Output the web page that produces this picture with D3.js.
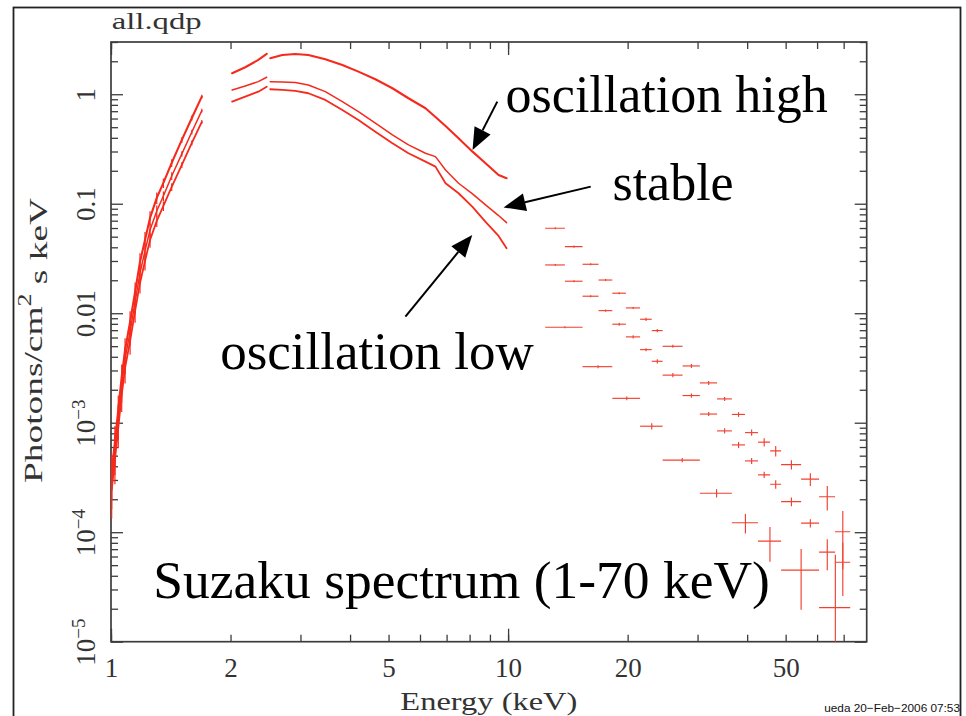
<!DOCTYPE html>
<html><head><meta charset="utf-8">
<script src="https://cdn.jsdelivr.net/npm/d3@7"></script>
<style>html,body{margin:0;padding:0;background:#fff;} svg{display:block;}</style>
</head><body>
<svg id="chart" width="966" height="716"></svg>
<script>
// ---------------- DATA ----------------
// XIS soft band (1-1.7 keV), three states
const softEnergy = [1.004,1.023,1.043,1.064,1.085,1.117,1.150,1.183,1.218,1.254,1.304,1.355,1.422,1.508,1.598,1.693];
const softHigh   = [0.000355,0.000668,0.00131,0.00262,0.00462,0.00833,0.01565,0.0294,0.0467,0.0742,0.1130,0.1549,0.2358,0.3825,0.6075,0.951];
const softStable = [0.000294,0.000553,0.001083,0.00217,0.00382,0.00675,0.01268,0.0233,0.0371,0.0576,0.0859,0.1178,0.1794,0.2850,0.4525,0.7083];
const softLow    = [0.000243,0.000457,0.000897,0.00179,0.00317,0.00558,0.0105,0.0189,0.0300,0.0467,0.0697,0.0955,0.1423,0.2261,0.3591,0.5585];
const softRelErr = [0.45,0.40,0.35,0.30,0.28,0.25,0.22,0.20,0.18,0.15,0.12,0.10,0.08,0.06,0.05,0.04];

// XIS hard band, part A (2-2.47 keV) and part B (2.5-10 keV)
const hardEnergyA = [2.019,2.178,2.349,2.467];
const hardHighA   = [1.555,1.765,2.057,2.333];
const hardStableA = [1.095,1.191,1.303,1.430];
const hardLowA    = [0.8557,0.9508,1.056,1.173];

const hardEnergyB = [2.518,2.700,2.911,3.140,3.465,3.825,4.198,4.632,5.113,5.612,6.194,6.563,6.958,7.503,8.136,8.775,9.463,9.913];
const hardHighB   = [2.132,2.285,2.333,2.285,2.087,1.851,1.608,1.371,1.134,0.9194,0.7449,0.6205,0.5135,0.3964,0.2990,0.2343,0.1832,0.1709];
const hardStableB = [1.303,1.295,1.282,1.216,1.056,0.8557,0.6935,0.5435,0.4249,0.3443,0.2891,0.2692,0.2035,0.1539,0.1229,0.0975,0.0780,0.0672];
const hardLowB    = [1.111,1.095,1.072,1.021,0.887,0.719,0.5824,0.4555,0.3568,0.2891,0.2424,0.2182,0.1539,0.1247,0.0935,0.0682,0.0508,0.0392];

// HXD (12-73 keV) binned points
const hxdEdges = [12.4,13.9,15.4,16.9,18.3,19.8,21.5,23.0,24.5,27.5,30.4,33.6,36.6,39.5,42.6,45.7,48.7,54.7,60.7,66.6,72.7];
const hxdHigh    = [0.0597,0.0406,0.0280,0.0201,0.01523,0.01118,0.00881,0.00694,0.00499,0.00330,0.00231,0.00165,0.00119,0.000812,0.000664,0.000553,0.000414,0.000305,0.000211,0.000101];
const hxdHighErr = [0.0013,0.0009,0.0006,0.0004,0.0003,0.00024,0.0003,0.00022,0.00016,0.00014,0.0001,0.00007,0.00006,0.000053,0.000058,0.000061,0.000041,0.000041,0.000053,0.000055];
const hxdStable    = [0.0276,0.0196,0.0143,0.01056,0.00794,0.00608,0.00465,0.00364,0.00272,0.00177,0.00120,0.000842,0.000627,0.000448,0.000334,0.000274,0.000190,0.000121,0.0000657,0.0000532];
const hxdStableErr = [0.0006,0.0004,0.0003,0.00023,0.00026,0.0002,0.00015,0.00016,0.00012,0.000076,0.00005,0.000046,0.000041,0.000029,0.000022,0.000024,0.000017,0.0000106,0.0000207,0.000027];
const hxdLowEdges = [12.4,15.4,18.3,21.5,24.5,30.4,36.6,42.6,48.7,60.7,72.7];
const hxdLow    = [0.00745,0.00325,0.00167,0.000929,0.000455,0.000227,0.000122,0.0000828,0.0000450,0.0000205];
const hxdLowErr = [0.00016,0.0001,0.00007,0.00006,0.00002,0.00002,0.0000245,0.000029,0.0000254,0.0000416];

// Axis ticks and labels
const xMajorTicks = [1,10];
const xMinorTicks = [2,3,4,5,6,7,8,9,20,30,40,50,60,70];
const xLabelValues = [1,2,5,10,20,50];
const yMajorTicks = [1e-5,1e-4,1e-3,0.01,0.1,1];
const yMinorTicks = [2e-5,3e-5,4e-5,5e-5,6e-5,7e-5,8e-5,9e-5,
                     2e-4,3e-4,4e-4,5e-4,6e-4,7e-4,8e-4,9e-4,
                     0.002,0.003,0.004,0.005,0.006,0.007,0.008,0.009,
                     0.02,0.03,0.04,0.05,0.06,0.07,0.08,0.09,
                     0.2,0.3,0.4,0.5,0.6,0.7,0.8,0.9,2,3];
const yLabelBase = ["10","10","10","0.01","0.1","1"];
const yLabelExp  = ["\u22125","\u22124","\u22123","","",""];

// Texts
const titleText = "all.qdp";
const xTitle = "Energy (keV)";
const yTitleParts = ["Photons/cm","2"," s keV"];
const stampText = "ueda 20\u2212Feb\u22122006 07:53";
const annotations = [
  {text:"oscillation high", e:9.856, f:0.6935, size:52},
  {text:"stable", e:18.31, f:0.1083, size:52},
  {text:"oscillation low", e:1.883, f:0.0031, size:53},
  {text:"Suzaku spectrum (1-70 keV)", e:1.278, f:2.496e-5, size:53.5}
];
const arrows = [
  {from:[9.393,0.856], to:[8.136,0.310]},
  {from:[16.15,0.1433], to:[9.743,0.0925]},
  {from:[5.513,0.00931], to:[8.122,0.0519]}
];

// ---------------- LAYOUT ----------------
const plot = {left:111, right:866.7, top:42, bottom:641.7};
const red = "#f52a1c";
const axisColor = "#3c3c3c";
const serif = "'Liberation Serif','Times New Roman',serif";

const svg = d3.select("#chart");
const x = d3.scaleLog().domain([1,80]).range([plot.left, plot.right]);
const y = d3.scaleLog().domain([1e-5,3]).range([plot.bottom, plot.top]);

// outer frame
svg.append("rect").attr("x",13.5).attr("y",7.5).attr("width",947).attr("height",740)
  .attr("fill","none").attr("stroke","#222").attr("stroke-width",1.8);

// clip
svg.append("clipPath").attr("id","clip").append("rect")
  .attr("x",plot.left).attr("y",plot.top).attr("width",plot.right-plot.left).attr("height",plot.bottom-plot.top);

// ---------------- AXES ----------------
function styleAxis(g){
  g.select(".domain").remove();
  g.selectAll(".tick line").attr("stroke",axisColor).attr("stroke-width",1.3);
}
const allX = xMajorTicks.concat(xMinorTicks);
// bottom
const gxb = svg.append("g").attr("transform",`translate(0,${plot.bottom})`)
  .call(d3.axisBottom(x).tickValues(allX).tickSizeInner(-7).tickSizeOuter(0).tickPadding(16)
    .tickFormat(d => xLabelValues.includes(d) ? String(d) : ""));
styleAxis(gxb);
gxb.attr("font-family",serif).attr("font-size",27);
gxb.selectAll(".tick text").attr("fill","#333");
const gxb2 = svg.append("g").attr("transform",`translate(0,${plot.bottom})`)
  .call(d3.axisBottom(x).tickValues(xMajorTicks).tickSizeInner(-13).tickSizeOuter(0).tickFormat(""));
styleAxis(gxb2);
// top
const gxt = svg.append("g").attr("transform",`translate(0,${plot.top})`)
  .call(d3.axisTop(x).tickValues(allX).tickSizeInner(-7).tickSizeOuter(0).tickFormat(""));
styleAxis(gxt);
const gxt2 = svg.append("g").attr("transform",`translate(0,${plot.top})`)
  .call(d3.axisTop(x).tickValues(xMajorTicks).tickSizeInner(-13).tickSizeOuter(0).tickFormat(""));
styleAxis(gxt2);
// left
const gyl = svg.append("g").attr("transform",`translate(${plot.left},0)`)
  .call(d3.axisLeft(y).tickValues(yMinorTicks).tickSizeInner(-7).tickSizeOuter(0).tickFormat(""));
styleAxis(gyl);
const gyl2 = svg.append("g").attr("transform",`translate(${plot.left},0)`)
  .call(d3.axisLeft(y).tickValues(yMajorTicks).tickSizeInner(-12).tickSizeOuter(0).tickFormat(""));
styleAxis(gyl2);
gyl2.selectAll(".tick").each(function(d){
  const i = yMajorTicks.indexOf(d);
  const t = d3.select(this).append("text")
    .attr("transform","translate(-16,0) rotate(-90)")
    .attr("text-anchor","middle").attr("fill","#333")
    .attr("font-family",serif).attr("font-size",27);
  t.append("tspan").text(yLabelBase[i]);
  if (yLabelExp[i]) t.append("tspan").attr("dy","-0.55em").attr("font-size",19).text(yLabelExp[i]);
});
// right
const gyr = svg.append("g").attr("transform",`translate(${plot.right},0)`)
  .call(d3.axisRight(y).tickValues(yMinorTicks).tickSizeInner(-7).tickSizeOuter(0).tickFormat(""));
styleAxis(gyr);
const gyr2 = svg.append("g").attr("transform",`translate(${plot.right},0)`)
  .call(d3.axisRight(y).tickValues(yMajorTicks).tickSizeInner(-12).tickSizeOuter(0).tickFormat(""));
styleAxis(gyr2);

// plot frame
svg.append("rect").attr("x",plot.left).attr("y",plot.top)
  .attr("width",plot.right-plot.left).attr("height",plot.bottom-plot.top)
  .attr("fill","none").attr("stroke",axisColor).attr("stroke-width",1.7);

// ---------------- stretched (Hershey-like) titles ----------------
function stretchedText(px, py, rot, anchor, target, build){
  const g = svg.append("g");
  const t = g.append("text").attr("text-anchor",anchor).attr("font-family",serif).attr("fill","#333");
  build(t);
  const L = t.node().getComputedTextLength();
  const s = target / L;
  g.attr("transform",`translate(${px},${py}) rotate(${rot}) scale(${s},1)`);
  return g;
}
stretchedText(111.7, 29, 0, "start", 90, t => t.attr("font-size",24).text(titleText));
stretchedText((plot.left+plot.right)/2, 710, 0, "middle", 177, t => t.attr("font-size",26).text(xTitle));
stretchedText(42, 340.5, -90, "middle", 285, t => {
  t.attr("font-size",26);
  t.append("tspan").text(yTitleParts[0]);
  t.append("tspan").attr("dy","-0.6em").attr("font-size",18).text(yTitleParts[1]);
  t.append("tspan").attr("dy","0.6em").text(yTitleParts[2]);
});

// ---------------- DATA MARKS ----------------
const dataG = svg.append("g").attr("clip-path","url(#clip)");
const line = d3.line().x(d => x(d[0])).y(d => y(d[1]));
function zipE(es, fs){ return es.map((e,i)=>[e,fs[i]]); }

const xisSeries = [
  {name:"high",   w:2.1, segs:[[softEnergy,softHigh],[hardEnergyA,hardHighA],[hardEnergyB,hardHighB]]},
  {name:"stable", w:1.5, segs:[[softEnergy,softStable],[hardEnergyA,hardStableA],[hardEnergyB,hardStableB]]},
  {name:"low",    w:1.8, segs:[[softEnergy,softLow],[hardEnergyA,hardLowA],[hardEnergyB,hardLowB]]}
];
xisSeries.forEach(s => {
  s.segs.forEach(([es,fs]) => {
    dataG.append("path").attr("d", line(zipE(es,fs)))
      .attr("fill","none").attr("stroke",red).attr("stroke-width",s.w)
      .attr("stroke-linejoin","round").attr("stroke-linecap","round");
  });
  // error bars on the soft band
  const soft = s.segs[0];
  dataG.selectAll(null).data(soft[0].map((e,i)=>({e, f:soft[1][i], r:softRelErr[i]})))
    .enter().append("line")
    .attr("x1",d=>x(d.e)).attr("x2",d=>x(d.e))
    .attr("y1",d=>y(d.f*(1+d.r))).attr("y2",d=>y(Math.max(d.f*(1-d.r),1e-6)))
    .attr("stroke",red).attr("stroke-width",1.2);
});

function hxdPoints(edges, vals, errs){
  return vals.map((v,i)=>({lo:edges[i], hi:edges[i+1], v, err:errs[i]}));
}
const hxdSets = [
  hxdPoints(hxdEdges, hxdHigh, hxdHighErr),
  hxdPoints(hxdEdges, hxdStable, hxdStableErr),
  hxdPoints(hxdLowEdges, hxdLow, hxdLowErr)
];
hxdSets.forEach(pts => {
  const g = dataG.append("g").attr("stroke","#f2402f").attr("stroke-width",1.15);
  g.selectAll("line.h").data(pts).enter().append("line").attr("class","h")
    .attr("x1",d=>x(d.lo)).attr("x2",d=>x(d.hi))
    .attr("y1",d=>y(d.v)).attr("y2",d=>y(d.v));
  g.selectAll("line.v").data(pts).enter().append("line").attr("class","v")
    .attr("x1",d=>x((d.lo+d.hi)/2)).attr("x2",d=>x((d.lo+d.hi)/2))
    .attr("y1",d=>y(d.v+d.err))
    .attr("y2",d=> d.v-d.err > 0 ? y(d.v-d.err) : plot.bottom+5);
});

// ---------------- ANNOTATIONS ----------------
annotations.forEach(a => {
  svg.append("text").attr("x",x(a.e)).attr("y",y(a.f))
    .attr("font-family",serif).attr("font-size",a.size).attr("fill","#000").text(a.text);
});
const headLen = 22, headHalf = 9;
arrows.forEach(a => {
  const x0 = x(a.from[0]), y0 = y(a.from[1]), x1 = x(a.to[0]), y1 = y(a.to[1]);
  const dx = x1-x0, dy = y1-y0, L = Math.hypot(dx,dy);
  const ux = dx/L, uy = dy/L, nx = -uy, ny = ux;
  const bx = x1 - headLen*ux, by = y1 - headLen*uy;
  svg.append("line").attr("x1",x0).attr("y1",y0).attr("x2",bx).attr("y2",by)
    .attr("stroke","#000").attr("stroke-width",2);
  svg.append("path")
    .attr("d",`M${x1},${y1}L${bx+headHalf*nx},${by+headHalf*ny}L${bx-headHalf*nx},${by-headHalf*ny}Z`)
    .attr("fill","#000");
});

// timestamp
svg.append("text").attr("x",960).attr("y",712).attr("text-anchor","end")
  .attr("font-family","'Liberation Sans',Arial,sans-serif").attr("font-size",11.8)
  .attr("fill","#111").text(stampText);
</script>
</body></html>
